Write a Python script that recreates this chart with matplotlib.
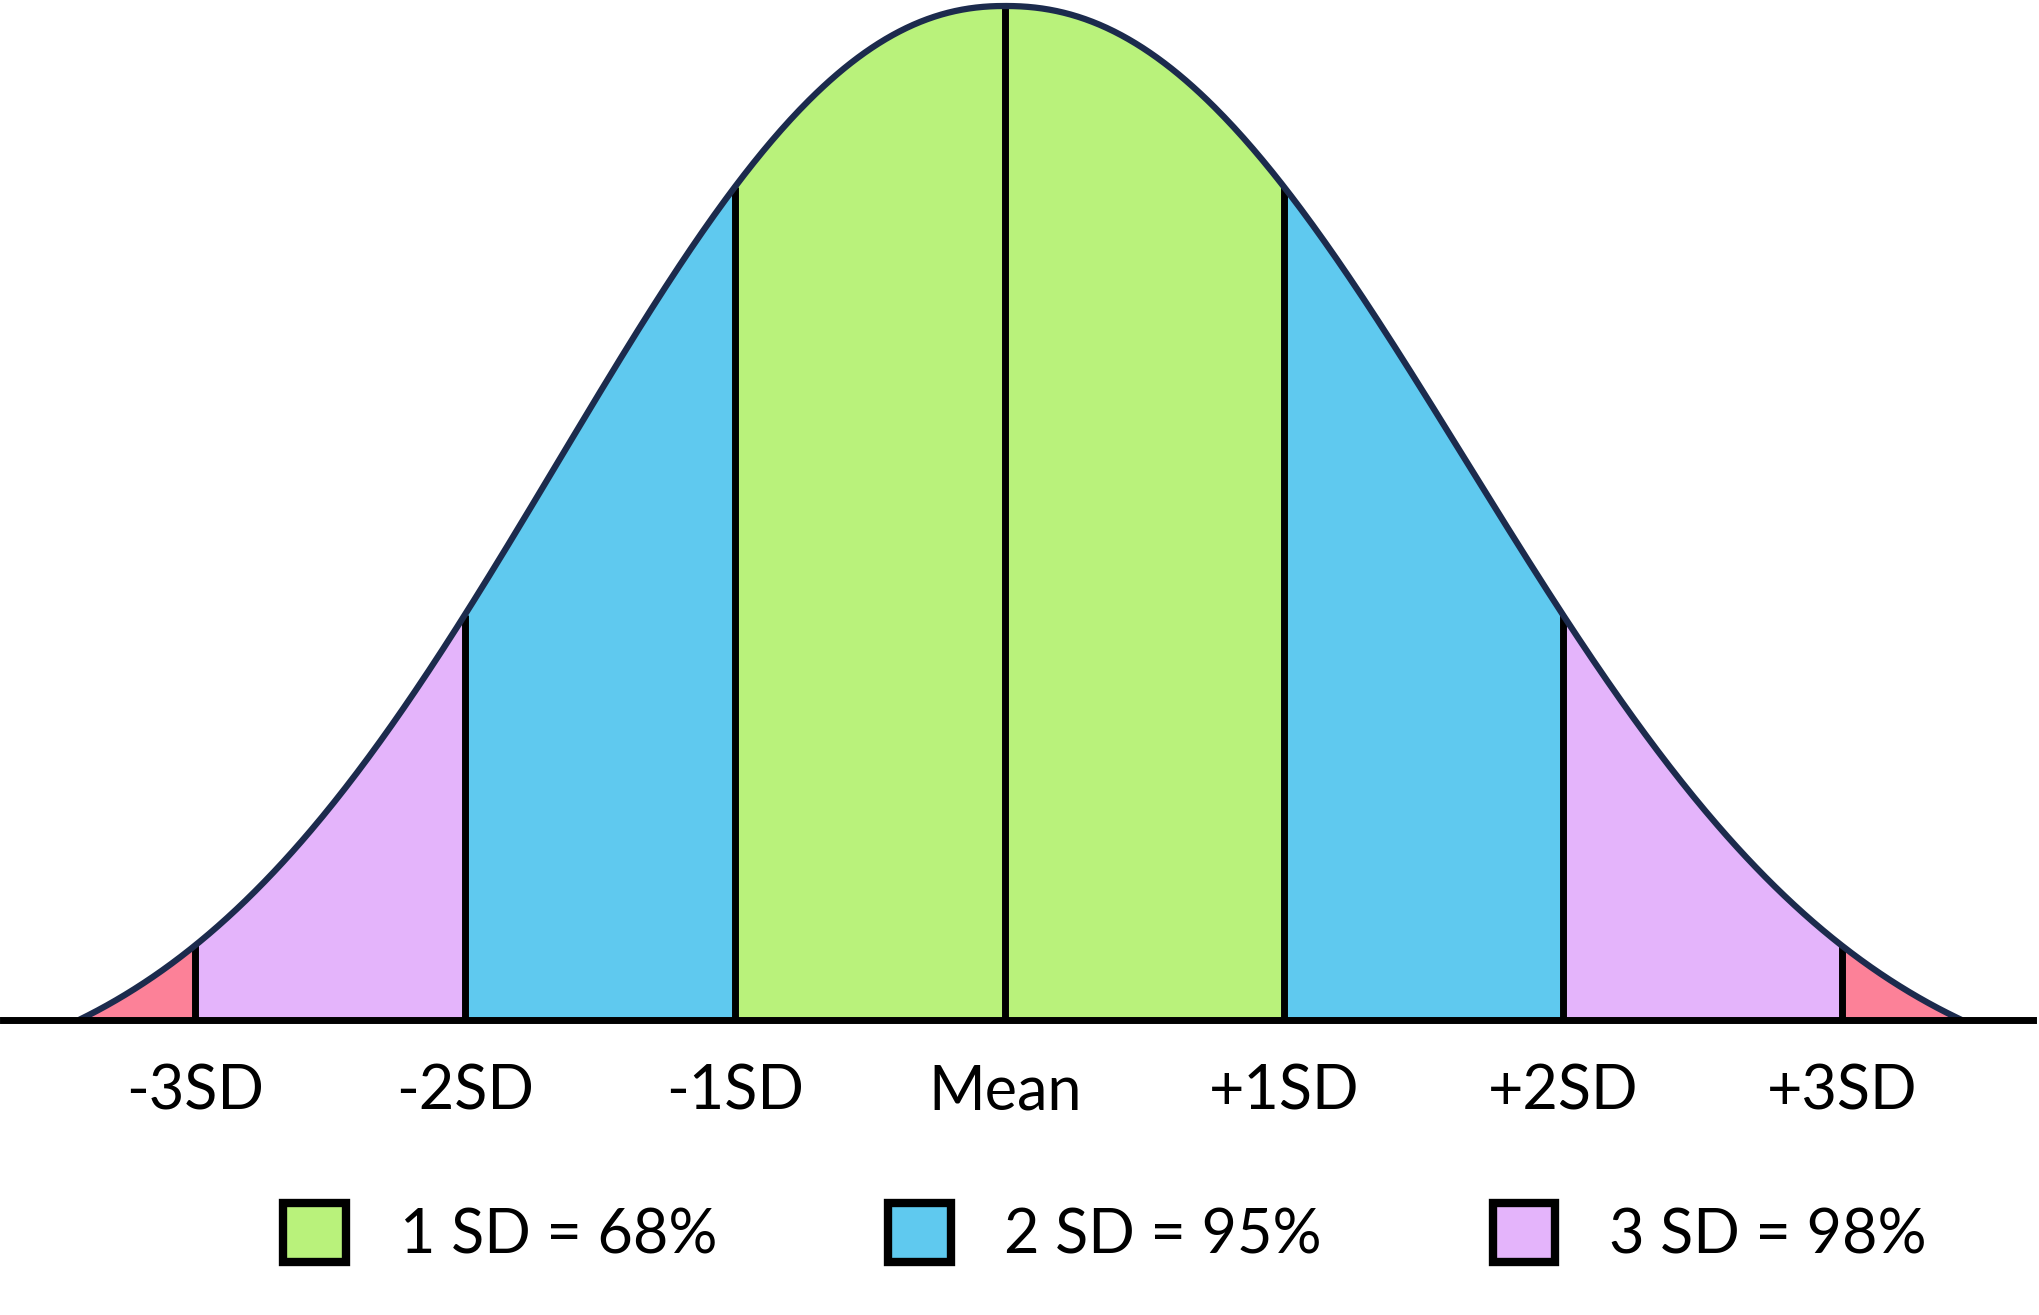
import numpy as np
import matplotlib
matplotlib.use("Agg")
import matplotlib.pyplot as plt
from matplotlib.patches import Patch

# boundaries of the bands, in standard deviations from the mean
sd_marks = [-3, -2, -1, 0, 1, 2, 3]
sd_labels = ["-3SD", "-2SD", "-1SD", "Mean", "+1SD", "+2SD", "+3SD"]

# bands between consecutive edges, with their colours
band_edges = [-3.43, -3, -2, -1, 1, 2, 3, 3.43]
band_colors = ["#fc8198", "#e4b4fb", "#5fc9ef", "#b9f27b",
               "#5fc9ef", "#e4b4fb", "#fc8198"]

legend_labels = ["1 SD = 68%", "2 SD = 95%", "3 SD = 98%"]
legend_colors = ["#b9f27b", "#5fc9ef", "#e4b4fb"]

curve_color = "#1c2b4d"
right_stretch = 1.033   # the drawing is a touch wider on the right side


def bell(u):
    # bell shape of the drawing, dropping to zero at the band ends
    a, p = 2.2, 2.17
    u = np.abs(np.asarray(u, dtype=float))
    c = np.exp(-(3.43 / a) ** p)
    return np.clip((np.exp(-(u / a) ** p) - c) / (1 - c), 0, None)


def xpos(u):
    u = np.asarray(u, dtype=float)
    return np.where(u > 0, u * right_stretch, u)


plt.rcParams["font.family"] = ["Lato", "DejaVu Sans"]

fig = plt.figure(figsize=(20.39, 13.15), dpi=100)
ax = fig.add_axes([0, 0, 1, 1])
ax.set_xlim(-1005 / 270, (2039 - 1005) / 270)
ax.set_ylim(-(1315 - 1020) / 1014, 1020 / 1014)
ax.axis("off")

for i in range(len(band_colors)):
    u = np.linspace(band_edges[i], band_edges[i + 1], 200)
    ax.fill_between(xpos(u), 0, bell(u), color=band_colors[i], lw=0, zorder=1)

ax.vlines(xpos(sd_marks), 0, bell(sd_marks), color="black", lw=5, zorder=2)

u = np.linspace(band_edges[0], band_edges[-1], 800)
ax.plot(xpos(u), bell(u), color=curve_color, lw=4.5, zorder=3, solid_capstyle="butt")

ax.axhline(0, xmin=3 / 2039, xmax=2033 / 2039, color="black", lw=5, zorder=4)

for m, lab in zip(sd_marks, sd_labels):
    ax.text(float(xpos(m)), -0.088, lab, ha="center", va="baseline", fontsize=44)

handles = [Patch(facecolor=c, edgecolor="black", linewidth=6) for c in legend_colors]
fig.legend(handles, legend_labels, ncol=3, loc="center", bbox_to_anchor=(0.542, 0.062),
           frameon=False, fontsize=44, handlelength=1.02, handleheight=1.12,
           handletextpad=0.88, columnspacing=2.8, borderpad=0)

fig.savefig("out.png", dpi=100)
